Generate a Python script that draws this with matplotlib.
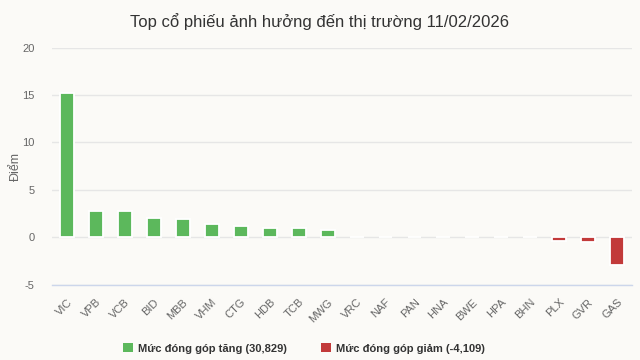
import matplotlib
matplotlib.use("Agg")
from matplotlib import pyplot as plt
from matplotlib.patches import Patch

plt.rcParams['font.family'] = ['Liberation Sans', 'DejaVu Sans']

#Stock codes and their contribution (points)
tickers = ["VIC", "VPB", "VCB", "BID", "MBB", "VHM", "CTG", "HDB", "TCB", "MWG",
           "VRC", "NAF", "PAN", "HNA", "BWE", "HPA", "BHN", "PLX", "GVR", "GAS"]
values = [15.2, 2.75, 2.75, 2.0, 1.9, 1.35, 1.2, 1.0, 1.0, 0.71,
          0.0, -0.02, -0.02, -0.02, -0.02, -0.02, -0.02, -0.4, -0.5, -2.9]

title = "Top cổ phiếu ảnh hưởng đến thị trường 11/02/2026"
up_label = "Mức đóng góp tăng (30,829)"
down_label = "Mức đóng góp giảm (-4,109)"
y_ticks = [-5, 0, 5, 10, 15, 20]

bg = "#fbfaf7"
green = "#5cb85c"
red = "#c23a3a"

fig = plt.figure(figsize=(6.4, 3.6), dpi=100, facecolor=bg)
ax = fig.add_axes([0.082, 0.2097, 0.905, 0.658], facecolor=bg)

colors = [green if v > 0 else red for v in values]
ax.bar(range(len(tickers)), values, width=0.48, color=colors,
       edgecolor="white", linewidth=1.3, zorder=3)

ax.set_xlim(-0.5, len(tickers) - 0.5)
ax.set_ylim(-5, 20)
ax.set_yticks(y_ticks)
ax.set_yticklabels([str(t) for t in y_ticks], color="#666666", fontsize=8)
ax.set_xticks(range(len(tickers)))
ax.set_xticklabels(tickers, rotation=45, ha="right", rotation_mode="anchor",
                   color="#666666", fontsize=8)
ax.tick_params(axis="both", length=0)
ax.tick_params(axis="y", pad=13)
ax.tick_params(axis="x", pad=9)

#grid like highcharts
ax.grid(axis="y", color="#e6e6e6", linewidth=1, zorder=0)
for s in ["top", "right", "left"]:
    ax.spines[s].set_visible(False)
ax.spines["bottom"].set_color("#ccd6eb")
ax.spines["bottom"].set_linewidth(1)

ax.set_ylabel("Điểm", color="#666666", fontsize=9, labelpad=0)

fig.text(0.5, 0.94, title, ha="center", va="center", fontsize=12, color="#333333")

handles = [Patch(facecolor=green, edgecolor="none", label=up_label),
           Patch(facecolor=red, edgecolor="none", label=down_label)]
fig.legend(handles=handles, loc="center", bbox_to_anchor=(0.475, 0.032), ncol=2,
           frameon=False, prop={"weight": "bold", "size": 8}, labelcolor="#333333",
           handlelength=0.9, handleheight=0.9, handletextpad=0.5, columnspacing=3)

fig.savefig("out.png", dpi=100, facecolor=bg)
